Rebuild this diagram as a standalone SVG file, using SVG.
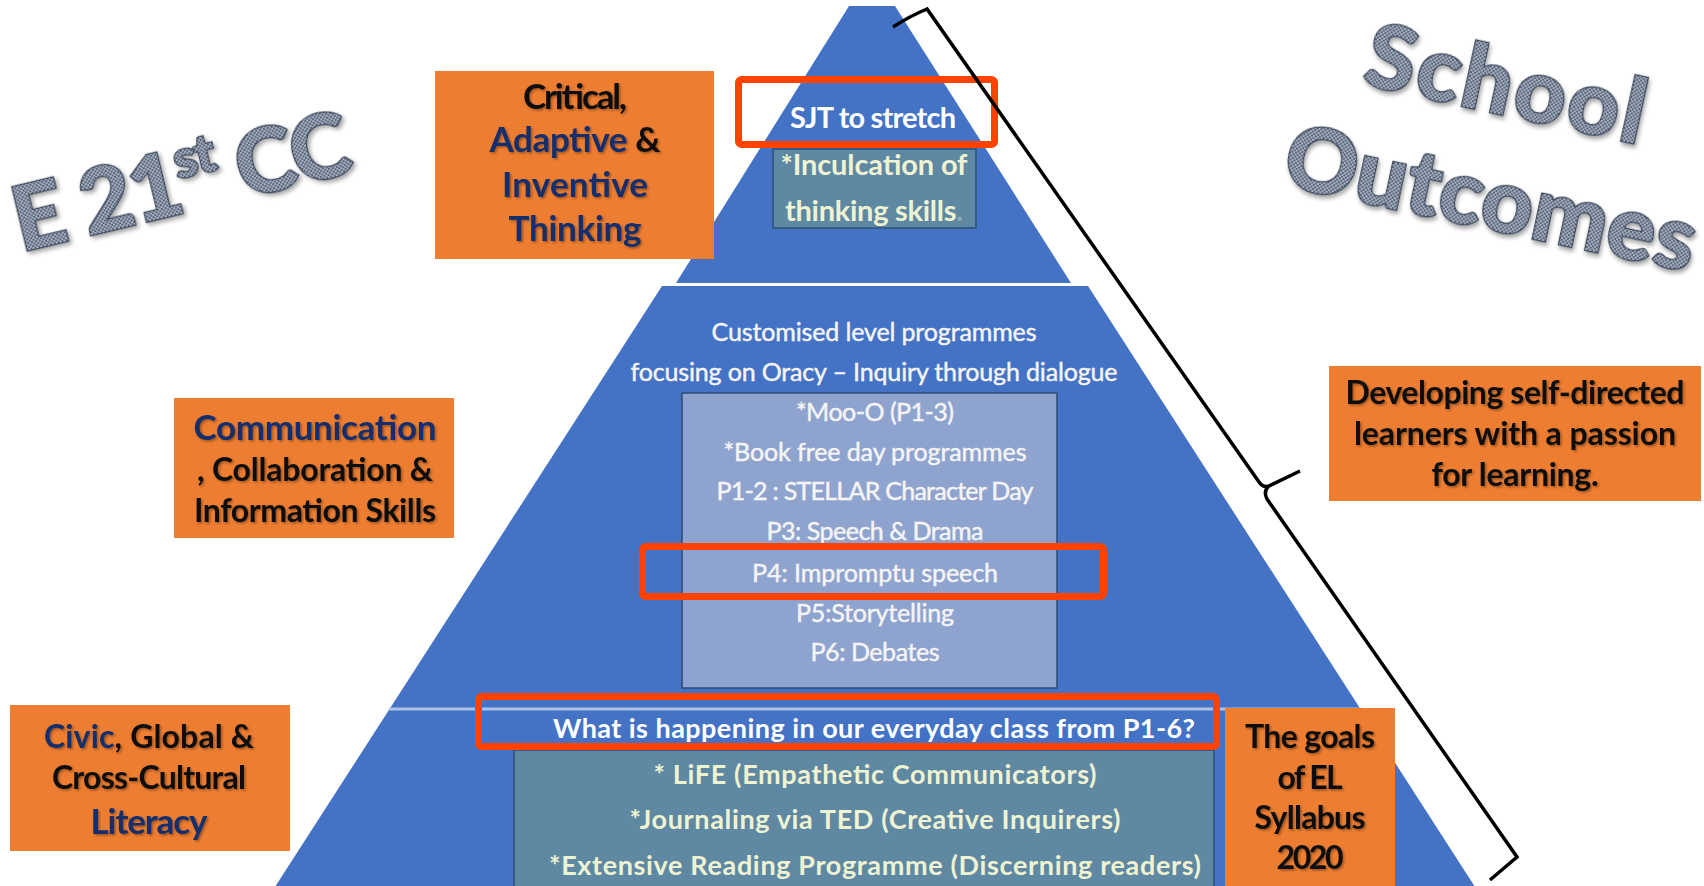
<svg xmlns="http://www.w3.org/2000/svg" width="1704" height="886" viewBox="0 0 1704 886">
<defs>
<pattern id="dots" width="4" height="4" patternUnits="userSpaceOnUse">
<rect width="4" height="4" fill="#A3AEBE"/>
<circle cx="1" cy="1" r="1.1" fill="#505C72"/>
<circle cx="3" cy="3" r="1.1" fill="#505C72"/>
</pattern>
<filter id="wsh" x="-20%" y="-60%" width="140%" height="220%">
<feDropShadow dx="2" dy="3" stdDeviation="2.2" flood-color="#000" flood-opacity="0.35"/>
</filter>
<filter id="ts" x="-10%" y="-40%" width="120%" height="180%">
<feDropShadow dx="1.5" dy="1.5" stdDeviation="1.3" flood-color="#000" flood-opacity="0.35"/>
</filter>
<style>
.wa{font-family:Lato,"Liberation Sans",sans-serif;font-weight:900;font-size:90px;fill:url(#dots);stroke:#3A4659;stroke-width:2.5;paint-order:stroke;filter:url(#wsh)}
.ob{fill:#ED7D31}
.ot{font-family:Lato,"Liberation Sans",sans-serif;font-weight:700;fill:#111;text-anchor:middle;filter:url(#ts)}
.nv{fill:#132F6C}
.wt{font-family:Lato,"Liberation Sans",sans-serif;font-weight:700;fill:#FFFFFF;text-anchor:middle}
.mt{font-family:Lato,"Liberation Sans",sans-serif;font-weight:400;fill:#F4F4F4;stroke:#F4F4F4;stroke-width:0.45;text-anchor:middle;font-size:25px}
.yt{font-family:Lato,"Liberation Sans",sans-serif;font-weight:700;fill:#EEF3D2;text-anchor:middle}
.red{fill:none;stroke:#FF4200;stroke-width:7}
.teal{fill:#5F88A3;stroke:#355A84;stroke-width:2}
</style>
</defs>
<rect width="1704" height="886" fill="#FFFFFF"/>

<g id="pyramid">
<polygon points="849,6 895,6 1071,283 676,283" fill="#4472C4"/>
<polygon points="662,286 1088,286 1477,890 273,890" fill="#4472C4"/>
<line x1="389" y1="709" x2="1361" y2="709" stroke="#AEC1E6" stroke-width="3"/>
</g>

<g id="wordart-left">
<text class="wa" transform="translate(21,252) rotate(-13.5)" textLength="344">E 21<tspan font-size="54" dy="-34">st</tspan><tspan dy="34"> CC</tspan></text>
</g>
<g id="wordart-right">
<text class="wa" transform="translate(1361,84) rotate(12.3)" font-size="84" textLength="284">School</text>
<text class="wa" transform="translate(1280,185) rotate(12)" textLength="418">Outcomes</text>
</g>

<g id="top-tier">
<text class="wt" x="873" y="128" font-size="29" textLength="166">SJT to stretch</text>
<rect class="teal" x="773" y="149" width="203" height="79"/>
<text class="yt" x="874" y="175" font-size="29" textLength="187">*Inculcation of</text>
<text class="yt" x="874" y="221" font-size="29" textLength="178">thinking skills<tspan fill="#8FAAB9">.</tspan></text>
</g>

<g id="middle-tier">
<text class="mt" x="874" y="341" textLength="325">Customised  level programmes</text>
<text class="mt" x="874" y="381" textLength="487">focusing on Oracy – Inquiry through dialogue</text>
<rect x="682" y="393" width="375" height="295" fill="#8FA3CF" stroke="#2E4A78" stroke-width="1.5"/>
<text class="mt" x="875" y="421" textLength="158">*Moo-O (P1-3)</text>
<text class="mt" x="875" y="461" textLength="303">*Book free day programmes</text>
<text class="mt" x="875" y="500" textLength="317">P1-2 : STELLAR Character  Day</text>
<text class="mt" x="875" y="540" textLength="217">P3: Speech &amp; Drama</text>
<text class="mt" x="875" y="582" textLength="246">P4: Impromptu  speech</text>
<text class="mt" x="875" y="622" textLength="158">P5:Storytelling</text>
<text class="mt" x="875" y="661" textLength="129">P6: Debates</text>
</g>

<g id="bottom-tier">
<rect class="teal" x="514" y="750" width="700" height="150"/>
<text class="wt" x="874" y="738" font-size="27" textLength="642">What is happening in our everyday class from P1-6?</text>
<text class="yt" x="875" y="784" font-size="27" textLength="443">* LiFE (Empathetic Communicators)</text>
<text class="yt" x="875" y="829" font-size="27" textLength="491">*Journaling via TED (Creative Inquirers)</text>
<text class="yt" x="875" y="875" font-size="27" textLength="652">*Extensive Reading Programme (Discerning readers)</text>
</g>

<g id="highlights">
<rect class="red" x="738.5" y="79.5" width="256" height="65" rx="3"/>
<rect class="red" x="642.5" y="546.5" width="461" height="50" rx="3"/>
<rect class="red" x="478.5" y="696.5" width="738" height="50" rx="3"/>
</g>

<g id="box-critical">
<rect class="ob" x="435" y="71" width="279" height="188"/>
<text class="ot" x="575" y="109" font-size="35" textLength="104">Critical,</text>
<text class="ot" x="575" y="152" font-size="35" textLength="171"><tspan class="nv">Adaptive</tspan> &amp;</text>
<text class="ot nv" x="575" y="197" font-size="35" textLength="146">Inventive</text>
<text class="ot nv" x="575" y="241" font-size="35" textLength="133">Thinking</text>
</g>

<g id="box-communication">
<rect class="ob" x="174" y="398" width="280" height="140"/>
<text class="ot nv" x="315" y="440" font-size="35" textLength="243">Communication</text>
<text class="ot" x="315" y="481" font-size="32" textLength="236">, Collaboration &amp;</text>
<text class="ot" x="315" y="522" font-size="32" textLength="242">Information Skills</text>
</g>

<g id="box-civic">
<rect class="ob" x="10" y="705" width="280" height="146"/>
<text class="ot" x="149" y="748" font-size="32" textLength="210"><tspan class="nv">Civic</tspan>, Global &amp;</text>
<text class="ot" x="149" y="789" font-size="32" textLength="194">Cross-Cultural</text>
<text class="ot nv" x="149" y="834" font-size="35" textLength="117">Literacy</text>
</g>

<g id="box-developing">
<rect class="ob" x="1329" y="366" width="372" height="135"/>
<text class="ot" x="1515" y="404" font-size="32" textLength="339">Developing self-directed</text>
<text class="ot" x="1515" y="445" font-size="32" textLength="322">learners with a passion</text>
<text class="ot" x="1515" y="486" font-size="32" textLength="167">for learning.</text>
</g>

<g id="box-goals">
<rect class="ob" x="1225" y="708" width="170" height="180"/>
<text class="ot" x="1310" y="748" font-size="32" textLength="130">The goals</text>
<text class="ot" x="1310" y="789" font-size="32" textLength="65">of EL</text>
<text class="ot" x="1310" y="829" font-size="32" textLength="111">Syllabus</text>
<text class="ot" x="1310" y="869" font-size="32" textLength="67">2020</text>
</g>

<g id="connectors">
<path d="M893,27 Q910,16 927,9 L1259,482 Q1263,488 1269,486 L1300,471 M1269,486 Q1263,491 1267,499 L1517,857 L1490,880" fill="none" stroke="#000" stroke-width="3.5" stroke-linejoin="miter"/>
</g>
</svg>
